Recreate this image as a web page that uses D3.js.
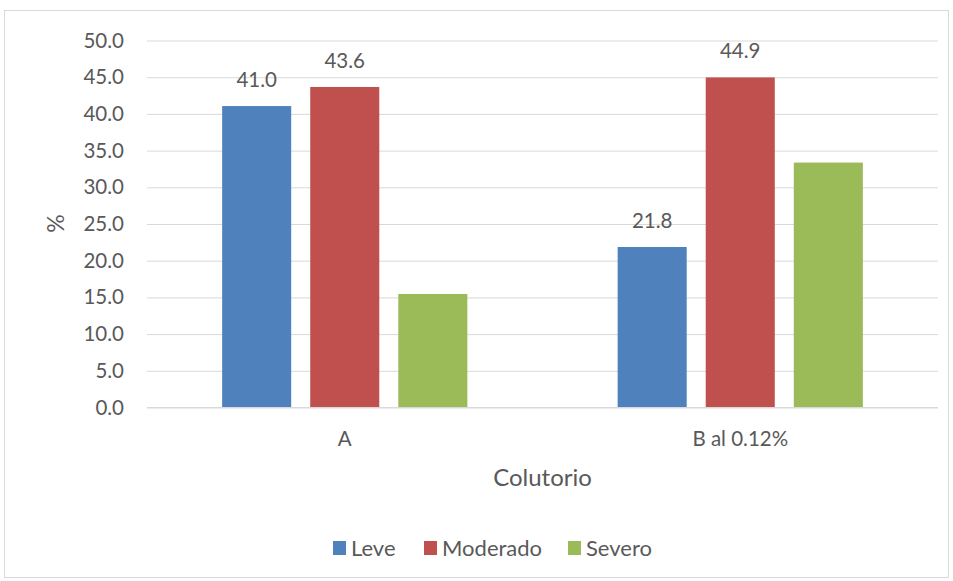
<!DOCTYPE html>
<html>
<head>
<meta charset="utf-8">
<script src="https://cdn.jsdelivr.net/npm/d3@7"></script>
<style>
  body { margin: 0; background: #fff; }
  svg text { font-family: Lato, "Open Sans", sans-serif; fill: #595959; }
</style>
</head>
<body>
<div id="container"></div>
<script>
/* DATA */
const categories = ["A", "B al 0.12%"];
const series = ["Leve", "Moderado", "Severo"];
const colors = ["#4F81BD", "#C0504D", "#9BBB59"];
const leve = [41.0, 21.8];
const moderado = [43.6, 44.9];
const severo = [15.4, 33.3];
const showLabel = [true, true, false];
const yTicks = [0, 5, 10, 15, 20, 25, 30, 35, 40, 45, 50];

const values = [leve, moderado, severo];

/* CONSTANTS */
const width = 953, height = 581;
const margin = {top: 40, bottom: 174, left: 147, right: 15};

const svg = d3.select("#container")
  .append("svg")
  .attr("width", width)
  .attr("height", height);

// chart border
svg.append("rect")
  .attr("x", 4.5).attr("y", 10.5)
  .attr("width", width - 9).attr("height", height - 14)
  .attr("fill", "none")
  .attr("stroke", "#D9D9D9");

/* SCALES */
const xScale = d3.scaleBand()
  .domain(categories)
  .range([margin.left, width - margin.right])
  .paddingInner(0.38)
  .paddingOuter(0.19);

const innerScale = d3.scaleBand()
  .domain(series)
  .range([0, xScale.bandwidth()])
  .paddingInner(0.216);

const yScale = d3.scaleLinear()
  .domain([0, 50])
  .range([height - margin.bottom, margin.top]);

/* GRID + Y AXIS */
const yAxis = d3.axisLeft(yScale)
  .tickValues(yTicks)
  .tickSize(-(width - margin.right - margin.left))
  .tickPadding(23)
  .tickFormat(d3.format(".1f"));

const yAxisGroup = svg.append("g")
  .attr("transform", `translate(${margin.left}, 0.5)`)
  .call(yAxis);
yAxisGroup.select(".domain").remove();
yAxisGroup.selectAll("line").attr("stroke", "#D9D9D9").attr("stroke-width", 1);
yAxisGroup.selectAll("text").style("font-size", "20.5px").attr("fill", "#595959");

/* BARS */
const rows = [];
categories.forEach((c, i) => {
  series.forEach((s, j) => {
    rows.push({cat: c, ser: s, value: values[j][i], color: colors[j], label: showLabel[j]});
  });
});

svg.selectAll(".bar")
  .data(rows)
  .join("rect")
  .attr("class", "bar")
  .attr("x", d => xScale(d.cat) + innerScale(d.ser))
  .attr("width", innerScale.bandwidth())
  .attr("y", d => yScale(d.value))
  .attr("height", d => yScale(0) - yScale(d.value))
  .attr("fill", d => d.color);

svg.selectAll(".bar-label")
  .data(rows.filter(d => d.label))
  .join("text")
  .attr("class", "bar-label")
  .attr("x", d => xScale(d.cat) + innerScale(d.ser) + innerScale.bandwidth() / 2)
  .attr("y", d => yScale(d.value) - 19)
  .attr("text-anchor", "middle")
  .style("font-size", "20.5px")
  .text(d => d.value.toFixed(1));

/* X AXIS */
svg.append("line")
  .attr("x1", margin.left).attr("x2", width - margin.right)
  .attr("y1", yScale(0) + 0.5).attr("y2", yScale(0) + 0.5)
  .attr("stroke", "#D9D9D9");

svg.selectAll(".x-label")
  .data(categories)
  .join("text")
  .attr("class", "x-label")
  .attr("x", d => xScale(d) + xScale.bandwidth() / 2)
  .attr("y", 446)
  .attr("text-anchor", "middle")
  .style("font-size", "20.5px")
  .text(d => d);

svg.append("text")
  .attr("x", (margin.left + width - margin.right) / 2)
  .attr("y", 486)
  .attr("text-anchor", "middle")
  .style("font-size", "24px")
  .text("Colutorio");

svg.append("text")
  .attr("transform", `translate(64, ${(yScale(0) + yScale(50)) / 2}) rotate(-90)`)
  .attr("text-anchor", "middle")
  .style("font-size", "23px")
  .text("%");

/* LEGEND */
const legendX = [333, 424, 568];
const legend = svg.selectAll(".legend")
  .data(series)
  .join("g")
  .attr("class", "legend")
  .attr("transform", (d, i) => `translate(${legendX[i]}, 541)`);

legend.append("rect")
  .attr("width", 13).attr("height", 14)
  .attr("fill", (d, i) => colors[i]);

legend.append("text")
  .attr("x", 18).attr("y", 15)
  .style("font-size", "22px")
  .text(d => d);
</script>
</body>
</html>
